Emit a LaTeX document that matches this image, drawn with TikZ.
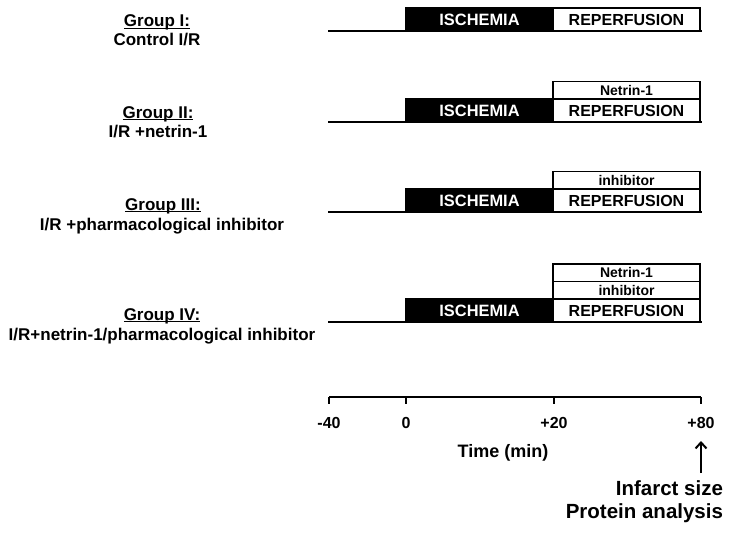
\documentclass[tikz,border=0pt]{standalone}
\usepackage{fontspec}
\setmainfont{Liberation Sans}
\usetikzlibrary{arrows.meta}
\newsavebox\grpbox
\newcommand\grpul[1]{\sbox\grpbox{#1}\rlap{\rule[-2.3pt]{\wd\grpbox}{1.4pt}}\usebox\grpbox}
\begin{document}
\begin{tikzpicture}[x=1pt,y=-1pt,
 every node/.style={inner sep=0pt, outer sep=0pt},
 isch/.style={draw=black, fill=black, text=white, line width=1.5pt, minimum width=147pt, minimum height=23pt, font=\fontsize{16.4}{19}\selectfont\bfseries},
 reper/.style={draw=black, fill=white, line width=1.5pt, minimum width=147pt, minimum height=23pt, font=\fontsize{16}{19}\selectfont\bfseries},
 drug/.style={draw=black, fill=white, line width=1.5pt, minimum width=147pt, minimum height=17.5pt, font=\fontsize{14}{16}\selectfont\bfseries},
 glabel/.style={anchor=base, font=\fontsize{17}{20}\selectfont\bfseries},
 ticklab/.style={anchor=base, font=\fontsize{16}{19}\selectfont\bfseries},
 bigl/.style={anchor=base east, font=\fontsize{20.5}{24}\selectfont\bfseries},
 base/.style={line width=2pt},
]
\useasboundingbox (0,0) rectangle (735,532);

% Group labels
\node[glabel] (g1) at (157,27) {\grpul{Group I:}};
\node[glabel] (g1b) at (157,46) {Control I/R};
\node[glabel] (g2) at (158,118) {\grpul{Group II:}};
\node[glabel] (g2b) at (158,137.5) {I/R +netrin-1};
\node[glabel] (g3) at (163,210) {\grpul{Group III:}};
\node[glabel] (g3b) at (162,230) {I/R +pharmacological inhibitor};
\node[glabel] (g4) at (162,320) {\grpul{Group IV:}};
\node[glabel] (g4b) at (162,340) {I/R+netrin-1/pharmacological inhibitor};

% Row 1
\node[isch, anchor=south] (i1) at (479.5,31) {ISCHEMIA};
\node[reper, anchor=south] (r1) at (626.5,31) {REPERFUSION};
\coordinate (s1) at (328,31); \coordinate (e1) at (702,31);
\draw[base] (s1) -- (e1);

% Row 2
\node[isch, anchor=south] (i2) at (479.5,122) {ISCHEMIA};
\node[reper, anchor=south] (r2) at (626.5,122) {REPERFUSION};
\node[drug, anchor=south] (n2) at (r2.north) {Netrin-1};
\coordinate (s2) at (328,122); \coordinate (e2) at (702,122);
\draw[base] (s2) -- (e2);

% Row 3
\node[isch, anchor=south] (i3) at (479.5,212) {ISCHEMIA};
\node[reper, anchor=south] (r3) at (626.5,212) {REPERFUSION};
\node[drug, anchor=south] (h3) at (r3.north) {inhibitor};
\coordinate (s3) at (328,212); \coordinate (e3) at (702,212);
\draw[base] (s3) -- (e3);

% Row 4
\node[isch, anchor=south] (i4) at (479.5,322) {ISCHEMIA};
\node[reper, anchor=south] (r4) at (626.5,322) {REPERFUSION};
\node[drug, anchor=south] (h4) at (r4.north) {inhibitor};
\node[drug, anchor=south] (n4) at (h4.north) {Netrin-1};
\coordinate (s4) at (328,322); \coordinate (e4) at (702,322);
\draw[base] (s4) -- (e4);

% Time axis
\coordinate (t1) at (329,397);
\coordinate (t2) at (406,397);
\coordinate (t3) at (554,397);
\coordinate (t4) at (701,397);
\draw[base] (t1) -- (t4);
\foreach \t in {t1,t2,t3,t4} \draw[base] (\t) -- ++(0,7);
\node[ticklab] (l1) at (329,428.5) {-40};
\node[ticklab] (l2) at (406,428.5) {0};
\node[ticklab] (l3) at (554,428.5) {+20};
\node[ticklab] (l4) at (701,428.5) {+80};
\node[anchor=base, font=\fontsize{18}{21}\selectfont\bfseries] (tm) at (503,457) {Time (min)};

% Arrow and outcome labels
\coordinate (a0) at (701,473);
\coordinate (a1) at (701,441);
\draw[line width=2pt, -{Straight Barb[length=6pt,width=11pt,line width=2pt]}] (a0) -- (a1);
\node[bigl] (inf) at (723,495) {Infarct size};
\node[bigl] (prot) at (723,518) {Protein analysis};
\end{tikzpicture}
\end{document}
